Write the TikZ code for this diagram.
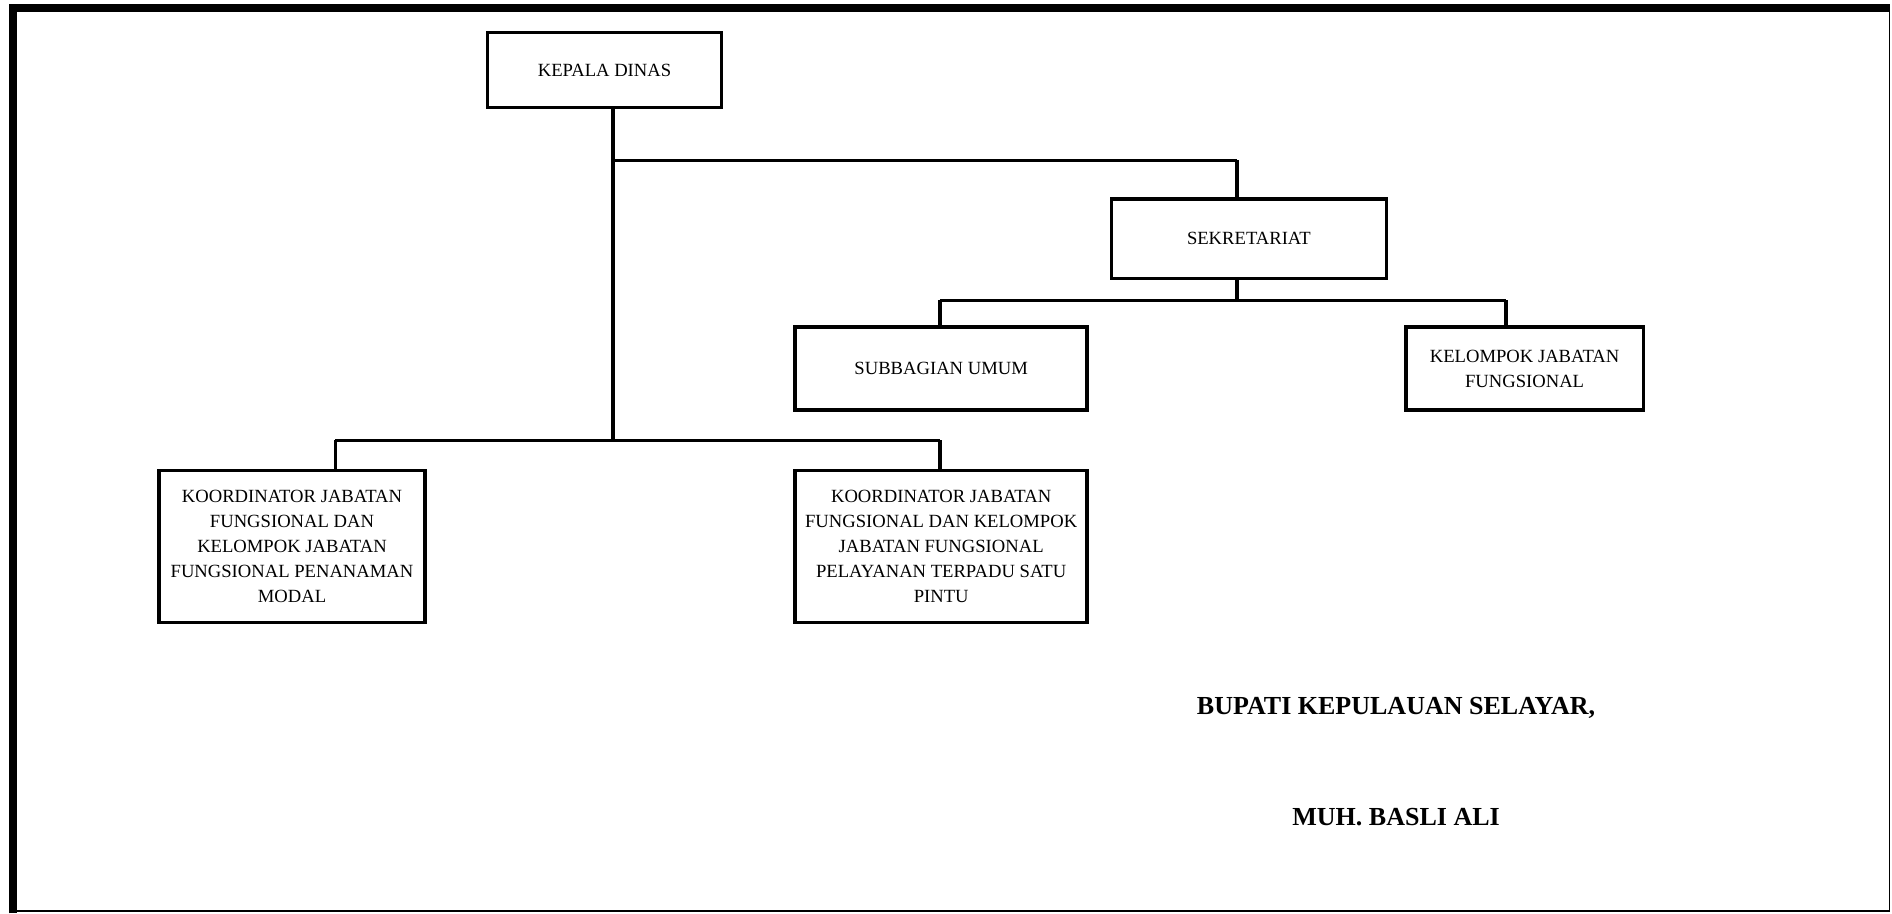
\documentclass[tikz,border=0pt]{standalone}
\usepackage{fontspec}
\setmainfont{Liberation Serif}

\begin{document}
\begin{tikzpicture}[x=0.2413mm, y=-0.2413mm, every edge/.style={draw, line width=2pt}]
            \useasboundingbox (0,0) rectangle (1568,757);

            % frame
            \draw[line width=0.8pt] (11,7) rectangle (1566,755);
            \draw[line width=4.6pt] (11,757) -- (11,7) -- (1566,7);

            \begin{scope}[every node/.style={draw, line width=2pt, align=center, inner sep=2pt,
                    font=\fontsize{10.6}{14.3}\selectfont}]

                \node[minimum width=46.8mm, minimum height=15mm] (1) at (501,58) {KEPALA DINAS};
                \node[minimum width=55mm, minimum height=15.9mm] (2) at (1035,198) {SEKRETARIAT};
                \node[minimum width=58.4mm, minimum height=16.6mm] (3) at (780,305.5) {SUBBAGIAN UMUM};
                \node[minimum width=47.5mm, minimum height=16.6mm] (4) at (1263.5,305.5) {KELOMPOK JABATAN\\FUNGSIONAL};
                \node[minimum width=53.1mm, minimum height=30.4mm] (5) at (242,453) {KOORDINATOR JABATAN\\FUNGSIONAL DAN\\KELOMPOK JABATAN\\FUNGSIONAL PENANAMAN\\MODAL};
                \node[minimum width=58.4mm, minimum height=30.4mm] (6) at (780,453) {KOORDINATOR JABATAN\\FUNGSIONAL DAN KELOMPOK\\JABATAN FUNGSIONAL\\PELAYANAN TERPADU SATU\\PINTU};

            \end{scope}

            \coordinate (kd) at (508,133);
            \coordinate (kb) at (508,365);
            \coordinate (sk) at (1025,249);
            \coordinate (sl) at (779,249);
            \coordinate (sr) at (1248,249);
            \coordinate (bl) at (278,365);
            \coordinate (br) at (779,365);

            \path (1.south -| kd) edge (kb);
            \path (kd) edge (kd -| sk);
            \path (kd -| sk) edge (2.north -| sk);
            \path (2.south -| sk) edge (sk);
            \path (sl) edge (sr);
            \path (sl) edge (3.north -| sl);
            \path (sr) edge (4.north -| sr);
            \path (bl) edge (br);
            \path (bl) edge (5.north -| bl);
            \path (br) edge (6.north -| br);

            \node[font=\bfseries\fontsize{14.8}{17}\selectfont] (7) at (1157,587) {BUPATI KEPULAUAN SELAYAR,};
            \node[font=\bfseries\fontsize{14.8}{17}\selectfont] (8) at (1157,677) {MUH. BASLI ALI};
        \end{tikzpicture}
\end{document}
